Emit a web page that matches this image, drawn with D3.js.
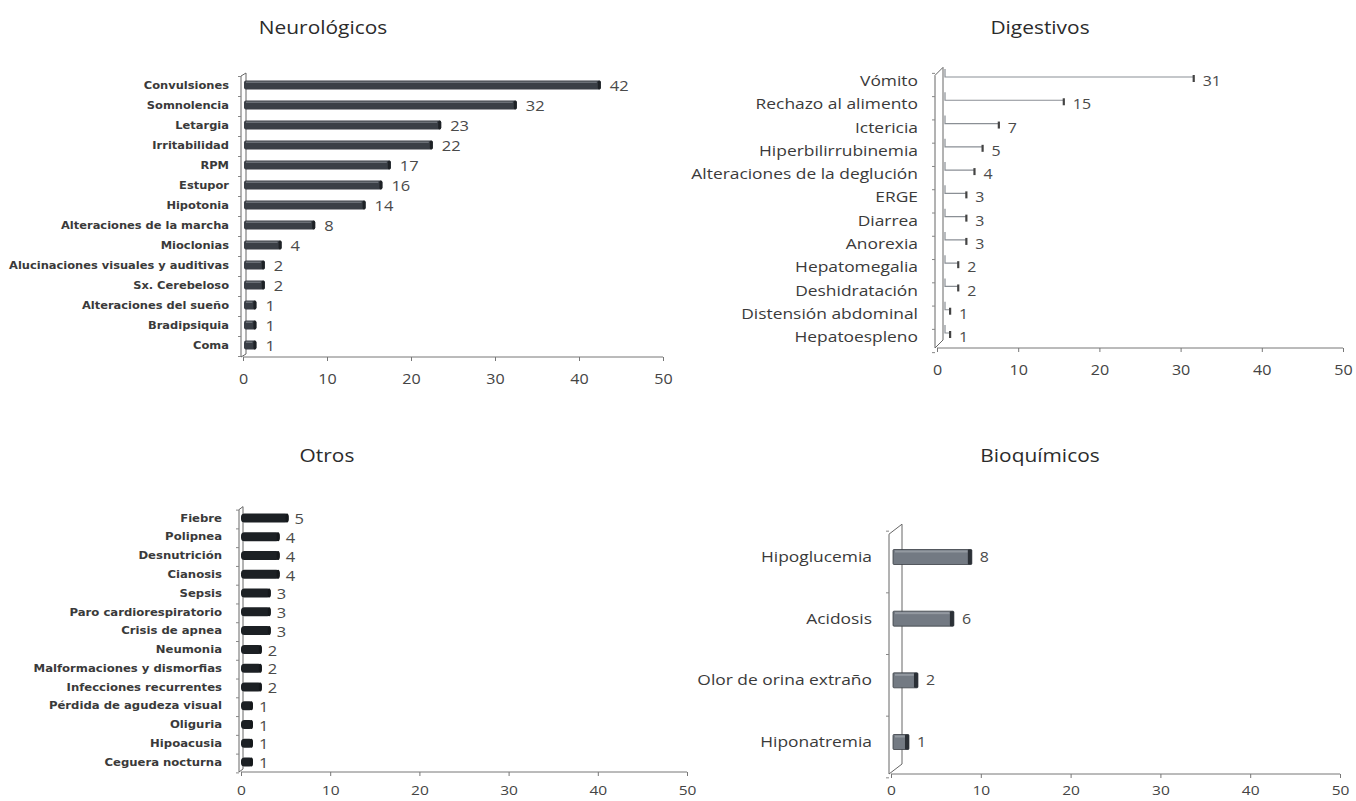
<!DOCTYPE html>
<html><head><meta charset="utf-8">
<script src="https://cdn.jsdelivr.net/npm/d3@7"></script>
<style>
html,body{margin:0;padding:0;background:#fff;}
svg{display:block;}
</style></head>
<body>
<svg id="chart" width="1356" height="801"></svg>
<script>
// ---------- DATA ----------
const neuroTitle = "Neurológicos";
const neuroCats = ["Convulsiones","Somnolencia","Letargia","Irritabilidad","RPM","Estupor","Hipotonia","Alteraciones de la marcha","Mioclonias","Alucinaciones visuales y auditivas","Sx. Cerebeloso","Alteraciones del sueño","Bradipsiquia","Coma"];
const neuroVals = [42,32,23,22,17,16,14,8,4,2,2,1,1,1];

const digTitle = "Digestivos";
const digCats = ["Vómito","Rechazo al alimento","Ictericia","Hiperbilirrubinemia","Alteraciones de la deglución","ERGE","Diarrea","Anorexia","Hepatomegalia","Deshidratación","Distensión abdominal","Hepatoespleno"];
const digVals = [31,15,7,5,4,3,3,3,2,2,1,1];

const otrosTitle = "Otros";
const otrosCats = ["Fiebre","Polipnea","Desnutrición","Cianosis","Sepsis","Paro cardiorespiratorio","Crisis de apnea","Neumonia","Malformaciones y dismorfias","Infecciones recurrentes","Pérdida de agudeza visual","Oliguria","Hipoacusia","Ceguera nocturna"];
const otrosVals = [5,4,4,4,3,3,3,2,2,2,1,1,1,1];

const bioTitle = "Bioquímicos";
const bioCats = ["Hipoglucemia","Acidosis","Olor de orina extraño","Hiponatremia"];
const bioVals = [8,6,2,1];

const xTicks = [0,10,20,30,40,50];

// ---------- DRAW ----------
const svg = d3.select("#chart");
const FONT = "Open Sans, sans-serif";

function panel(o){
  const g = svg.append("g");
  const x = d3.scaleLinear().domain([0,50]).range([o.x0,o.x1]);
  const y = d3.scalePoint().domain(o.cats).range([o.yFirst,o.yLast]);
  const step = y.step();

  // title
  g.append("text").attr("transform",`translate(${o.titleX},${o.titleY}) scale(1.1,1)`).attr("text-anchor","middle")
    .attr("font-family",FONT).attr("font-size",19).attr("fill","#2b2b2b").text(o.title);

  // wall
  const top = o.yFirst - step/2 - 2;
  g.append("path")
    .attr("d",`M${o.x0-2},${o.axisY} V${top+o.dy} L${o.x0-2+o.dx},${top} V${o.axisY-o.dy} L${o.x0-2},${o.axisY}`)
    .attr("fill","none").attr("stroke","#666").attr("stroke-width",1);
  // y ticks at boundaries
  const bounds = o.cats.map(c=>y(c)-step/2).concat([o.yLast+step/2]);
  g.selectAll(".yt").data(bounds).join("line")
    .attr("x1",o.x0-5).attr("x2",o.x0-2).attr("y1",d=>d+o.dy/2).attr("y2",d=>d+o.dy/2)
    .attr("stroke","#888").attr("stroke-width",1);

  // x axis
  const ax = d3.axisBottom(x).tickValues(xTicks).tickSize(4).tickPadding(0).tickFormat(d3.format("d"));
  const axg = g.append("g").attr("transform",`translate(0,${o.axisY})`).call(ax);
  axg.select(".domain").attr("stroke","#777").attr("d",`M${o.x0},0H${o.x1}`);
  axg.selectAll(".tick line").attr("stroke","#777");
  axg.selectAll(".tick text").attr("y",null).attr("dy",null)
    .attr("transform",`translate(0,${o.tickLabelDy}) scale(1.15,1)`)
    .attr("font-family",FONT).attr("font-size",o.tickSize||14).attr("fill","#444");

  // category labels (horizontally stretched like the scanned original)
  g.selectAll(".cl").data(o.cats).join("text")
    .attr("transform",d=>`translate(${o.labelRight},${y(d)}) scale(${o.labelSx},1)`)
    .attr("dy","0.35em").attr("text-anchor","end")
    .attr("font-family",o.labelFont).attr("font-weight",o.labelWeight).attr("font-size",o.labelSize)
    .attr("fill","#3a3a3a").text(d=>d);

  const data = o.cats.map((c,i)=>({c,v:o.vals[i]}));
  if(o.style==="outline"){
    const bx = o.x0 + o.dx;
    data.forEach(d=>{
      const cy = y(d.c);
      const xe = x(d.v)+o.endOff;
      g.append("path").attr("d",`M${bx},${cy-12}V${cy-4}H${xe}`).attr("fill","none").attr("stroke","#8a8f95").attr("stroke-width",1.2);
      g.append("line").attr("x1",xe).attr("x2",xe).attr("y1",cy-6).attr("y2",cy+1).attr("stroke","#444").attr("stroke-width",2.2);
    });
  } else {
    g.selectAll(".bar").data(data).join("rect")
      .attr("x",o.x0+o.barStart).attr("y",d=>y(d.c)-o.barH/2)
      .attr("width",d=>x(d.v)+o.endOff-(o.x0+o.barStart)).attr("height",o.barH)
      .attr("rx",o.rx).attr("fill",o.fill).attr("stroke",o.stroke||"none").attr("stroke-width",0.8);
    if(o.hi){
      g.selectAll(".hi").data(data).join("rect")
        .attr("x",o.x0+o.barStart+2).attr("y",d=>y(d.c)-o.barH/2+1)
        .attr("width",d=>Math.max(0,x(d.v)+o.endOff-(o.x0+o.barStart)-6)).attr("height",o.hiH)
        .attr("fill",o.hi).attr("opacity",0.6);
    }
    g.selectAll(".cap").data(data).join("rect")
      .attr("x",d=>x(d.v)+o.endOff-o.capW).attr("y",d=>y(d.c)-o.barH/2)
      .attr("width",o.capW).attr("height",o.barH).attr("rx",o.rx).attr("fill",o.cap);
  }
  // value labels
  g.selectAll(".vl").data(data).join("text")
    .attr("transform",d=>`translate(${x(d.v)+o.endOff+o.valGap},${y(d.c)+o.valDy}) scale(1.1,1)`)
    .attr("dy","0.35em")
    .attr("font-family",FONT).attr("font-size",o.valSize).attr("fill","#4a4a4a").text(d=>d.v);
}

panel({title:neuroTitle,cats:neuroCats,vals:neuroVals,titleX:323,titleY:34,
  x0:243,x1:663,yFirst:85,yLast:345,axisY:357,dx:5,dy:3,labelRight:229,labelSx:1.08,
  labelFont:"DejaVu Sans, sans-serif",labelWeight:"bold",labelSize:10.6,tickLabelDy:27,
  style:"solid",barStart:1,endOff:5,barH:9,rx:2,fill:"#3a3f46",hi:"#8c9198",hiH:1.5,cap:"#1e2226",capW:3,
  valGap:9,valDy:1,valSize:15});

panel({title:digTitle,cats:digCats,vals:digVals,titleX:1040,titleY:34,
  x0:937,x1:1343,yFirst:81,yLast:337,axisY:348,dx:8,dy:8,labelRight:918,labelSx:1.2,
  labelFont:FONT,labelWeight:"normal",labelSize:14.5,tickLabelDy:27,
  style:"outline",endOff:5,valGap:9,valDy:0,valSize:14.5});

panel({title:otrosTitle,cats:otrosCats,vals:otrosVals,titleX:327,titleY:462,
  x0:241,x1:687,yFirst:518,yLast:762,axisY:772,dx:4,dy:3,labelRight:222,labelSx:1.1,
  labelFont:"DejaVu Sans, sans-serif",labelWeight:"bold",labelSize:10.6,tickLabelDy:23,tickSize:13.5,
  style:"solid",barStart:0,endOff:3,barH:9,rx:3.5,fill:"#1c2024",hi:null,cap:"#15181b",capW:3,
  valGap:6,valDy:1,valSize:15});

panel({title:bioTitle,cats:bioCats,vals:bioVals,titleX:1040,titleY:462,
  x0:891,x1:1340,yFirst:557,yLast:742,axisY:774,dx:13,dy:10,labelRight:872,labelSx:1.2,
  labelFont:FONT,labelWeight:"normal",labelSize:14.5,tickLabelDy:21,tickSize:13.5,
  style:"solid",barStart:2,endOff:9,barH:15,rx:1,fill:"#737a83",stroke:"#3a3f45",hi:"#a9aeb4",hiH:2,cap:"#2b3036",capW:4,
  valGap:8,valDy:0,valSize:14.5});
</script>
</body></html>
